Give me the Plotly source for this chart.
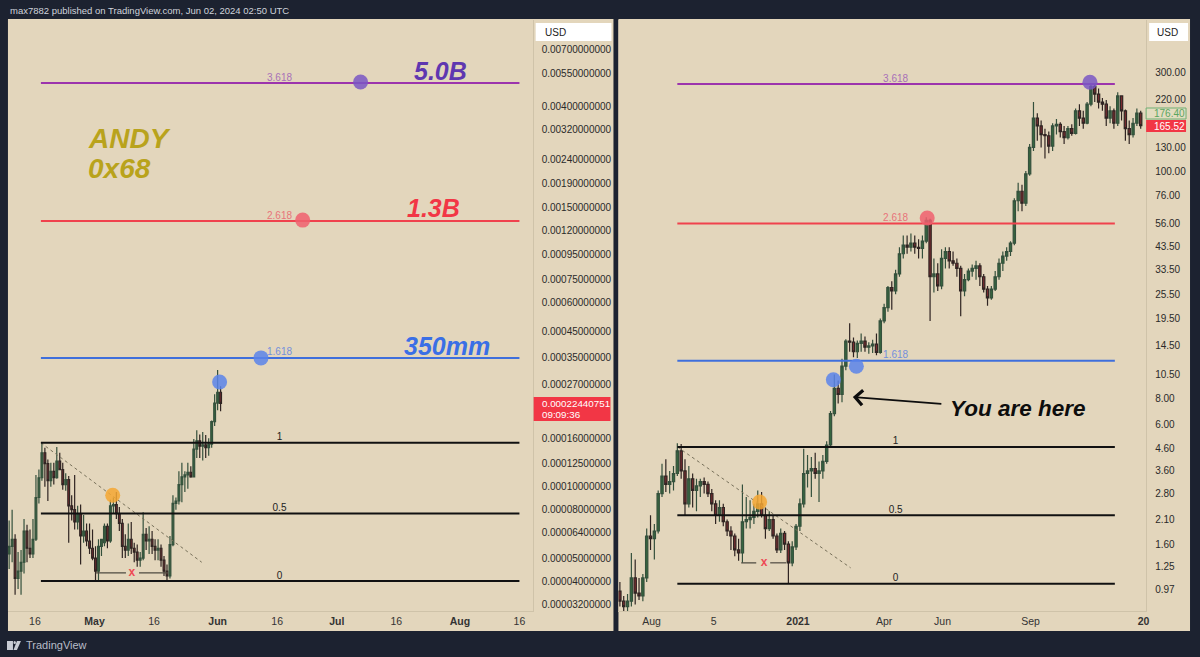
import pandas as pd
import plotly.graph_objects as go

# ---------- data (left chart, prices in units of 1e-5 USD) ----------
LEFT_UNIT = 1e-5
left_open = [5.2,5.6,6.0,4.1,4.4,4.8,6.5,5.5,5.2,6.0,9.0,10.9,13.9,12.5,10.6,11.6,10.9,12.8,11.8,10.2,10.7,8.3,8.0,7.1,7.7,6.2,6.5,5.9,5.5,5.0,4.4,5.6,5.8,6.8,5.9,8.3,8.4,7.7,7.0,5.6,5.4,6.0,5.5,5.3,4.9,5.0,6.3,5.9,6.0,5.6,5.4,5.5,4.9,4.4,4.2,5.7,8.5,8.7,10.2,11.0,11.2,11.5,11.0,14.4,15.6,14.8,15.0,14.6,15.1,18.8,22.5,25.0]
left_high = [7.2,8.0,6.3,5.3,5.4,7.3,6.9,6.6,7.3,11.2,11.8,15.3,14.6,13.0,12.6,12.6,14.7,13.9,12.6,11.4,11.1,9.2,11.2,8.3,8.4,7.6,7.0,7.0,6.6,5.6,6.0,6.0,7.0,7.0,8.8,9.0,9.5,8.2,7.3,6.3,7.0,7.1,5.8,5.7,5.3,7.8,6.7,6.8,6.5,6.0,6.0,5.7,5.1,4.7,6.2,9.2,9.0,11.6,12.6,11.6,12.6,12.2,15.9,17.3,16.6,17.0,16.5,16.0,19.0,24.5,31.0,26.5]
left_low = [4.5,4.8,3.5,3.7,3.5,4.3,4.8,5.0,5.0,5.9,8.5,10.6,10.0,8.7,10.0,10.2,10.8,11.8,9.7,9.6,5.8,7.2,6.6,6.6,4.7,5.8,5.6,5.2,4.9,4.0,4.0,5.1,5.6,5.5,5.8,7.7,7.3,6.5,5.0,5.0,5.1,5.2,4.8,4.6,4.6,4.9,5.4,5.2,5.2,4.9,4.9,4.6,4.2,4.0,4.1,5.6,8.0,8.4,8.6,9.5,9.8,10.9,11.0,13.2,13.2,12.9,13.2,13.5,14.6,18.0,21.0,20.8]
left_close = [5.6,6.0,4.1,4.4,4.8,6.5,5.5,5.2,6.0,9.0,10.9,13.9,12.5,10.6,11.6,10.9,12.8,11.8,10.2,10.7,8.3,8.0,7.1,7.7,6.2,6.5,5.9,5.5,5.0,4.4,5.6,6.0,6.8,5.9,8.3,8.4,7.7,7.0,5.6,5.4,6.0,5.5,5.3,4.9,5.0,6.3,5.9,6.0,5.6,5.4,5.5,4.9,4.4,4.2,5.7,8.5,8.7,10.2,11.0,11.2,11.5,11.0,14.4,15.6,14.8,15.0,14.6,15.1,18.8,22.5,25.0,22.44]

# ---------- data (right chart, USD) ----------
right_open = [.95,.85,.8,.85,1.1,.93,.9,1.1,1.75,1.7,1.85,2.8,3.4,3.1,3.2,3.5,4.5,3.6,2.5,3.3,2.9,3.05,3.2,3.1,2.8,2.5,2.2,2.4,2.05,1.85,1.75,1.5,1.45,2.05,2.1,2.15,2.3,2.5,2.2,1.9,2.1,1.75,1.5,1.8,1.6,1.3,1.55,1.95,2.5,3.5,3.6,3.7,3.5,3.6,4.0,4.8,6.8,9.0,8.4,11.5,15.2,15,13.5,14.8,15.2,14.2,14.4,14.7,13.4,19,22,27.5,26.5,32,40,44,43,45,43,42.5,46,58,31,32,28,38,41,37,36,34,26.5,30,33,34,35,31,27,24.5,27,31,36,39,41,45,72,80,70,97,130,180,165,150,148,132,165,168,155,145,160,152,195,180,170,210,255,235,215,210,180,195,170,230,195,160,150,170,190]
right_high = [1.05,.9,.92,1.45,1.35,1.1,1.15,1.9,2.2,2.0,2.9,3.9,4.1,3.6,3.8,4.9,4.85,4.1,3.8,3.5,3.3,3.3,3.35,3.2,2.95,2.6,2.6,2.5,2.1,1.95,1.8,1.7,3.1,2.7,2.6,2.5,2.9,2.85,2.4,2.3,2.2,1.8,1.9,1.85,1.65,1.65,2.0,2.65,4.6,4.3,4.2,4.4,4.0,4.3,5.0,7.0,10.5,9.8,12.5,15.5,18.5,15.8,15.3,16.5,16.0,15,15.4,16.5,19.5,23,28,29.5,33.5,43,49,49,50,49,47,49,60,59,38,36,42,43,43,41,38,35,32,34,35.5,37,36,32,28,28,33,38,41,43,46,74,88,86,100,135,215,190,175,160,155,170,178,172,165,165,168,200,210,195,215,265,262,250,225,220,205,200,240,232,198,175,180,200,195]
right_low = [.8,.76,.76,.8,.82,.86,.85,1.05,1.5,1.35,1.8,2.7,2.85,2.8,2.9,3.4,3.3,2.2,2.4,2.4,2.3,2.7,2.8,2.7,2.3,2.0,2.05,1.95,1.75,1.5,1.4,1.33,1.3,1.9,1.9,2.0,2.15,2.15,1.7,1.85,1.7,1.45,1.45,1.5,1.03,1.25,1.5,1.85,2.4,3.0,2.7,3.3,2.55,3.3,3.9,4.7,6.6,7.6,7.7,11,13.5,12.7,12.6,13.5,13.5,13.2,13.3,13,13.2,18.5,21,21.5,25.5,31,38,40,41,40,38,38,45,19,26,26.5,27,34,34,35,31,20,25,29.5,31,30,28,26,22.5,24,26.5,30,33,37,39,44,64,64,68,95,125,140,130,115,122,125,150,145,135,142,148,150,165,160,168,205,215,200,195,165,170,160,165,175,140,135,145,165,160]
right_close = [.85,.8,.85,1.1,.93,.9,1.1,1.75,1.7,1.85,2.8,3.4,3.1,3.2,3.5,4.5,3.6,2.5,3.3,2.9,3.05,3.2,3.1,2.8,2.5,2.2,2.4,2.05,1.85,1.75,1.5,1.45,2.05,2.1,2.15,2.3,2.5,2.2,1.9,2.1,1.75,1.5,1.8,1.6,1.3,1.55,1.95,2.5,3.5,3.6,3.7,3.5,3.6,4.0,4.8,6.8,9.0,8.4,11.5,15.2,15,13.5,14.8,15.2,14.2,14.4,14.7,13.4,19,22,27.5,26.5,32,40,44,43,45,43,42.5,46,58,31,32,28,38,41,37,36,34,26.5,30,33,34,35,31,27,24.5,27,31,36,39,41,45,72,80,70,97,130,180,165,150,148,132,165,168,155,145,160,152,195,180,170,210,255,235,215,210,180,195,170,230,195,160,150,170,190,165.52]

# ---------- axis labels ----------
left_y_ticks = [0.007,0.0055,0.004,0.0032,0.0024,0.0019,0.0015,0.0012,0.00095,0.00075,0.0006,0.00045,0.00035,0.00027,0.00016,0.000125,0.0001,0.00008,0.000064,0.00005,0.00004,0.000032]
right_y_ticks = [300,220,130,100,76,56,43.5,33.5,25.5,19.5,14.5,10.5,8,6,4.6,3.6,2.8,2.1,1.6,1.25,0.97]
left_x_ticks = ["2024-04-16","2024-05-01","2024-05-16","2024-06-01","2024-06-16","2024-07-01","2024-07-16","2024-08-01","2024-08-16"]
left_x_labels = ["16","<b>May</b>","16","<b>Jun</b>","16","<b>Jul</b>","16","<b>Aug</b>","16"]
right_x_ticks = ["2020-08-01","2020-10-05","2021-01-01","2021-04-01","2021-06-01","2021-09-01","2021-12-28"]
right_x_labels = ["Aug","5","<b>2021</b>","Apr","Jun","Sep","<b>20</b>"]

# ---------- fib levels: (label, price, line colour, label colour) ----------
left_levels = [("3.618",0.00503,"#9c34ad","#a871b8"),("2.618",0.001317,"#f0424d","#e8747a"),("1.618",0.000349,"#3f6fdc","#7390dc"),
               ("1",0.000153,"#111111","#222222"),("0.5",0.000077,"#111111","#222222"),("0",0.00004,"#111111","#222222")]
right_levels = [("3.618",262.6,"#9c34ad","#a871b8"),("2.618",56,"#f0424d","#e8747a"),("1.618",12.2,"#3f6fdc","#7390dc"),
                ("1",4.7,"#111111","#222222"),("0.5",2.2,"#111111","#222222"),("0",1.03,"#111111","#222222")]
left_span = ["2024-04-17 12:00","2024-08-16"]
right_span = ["2020-08-28","2021-11-28"]
left_label_date = "2024-06-16 14:00"
right_label_date = "2021-04-13"

# ---------- circles ----------
left_dots_x = ["2024-07-07","2024-06-22 10:00","2024-06-11 22:00","2024-06-01 12:00","2024-05-05 14:00"]
left_dots_y = [0.00508,0.00133,0.000349,0.000276,0.000092]
right_dots_x = ["2021-11-02","2021-05-16","2021-03-03","2021-02-07","2020-11-22"]
right_dots_y = [268,59.5,11.5,9.9,2.55]
dots_colors = ["#7a57c4","#f0606e","#5b84ea","#5b84ea","#f5a733"]

# ---------- trend lines and x brackets ----------
left_trend_x, left_trend_y = ["2024-04-17 12:00","2024-05-28"], [0.000153,0.000048]
right_trend_x, right_trend_y = ["2020-08-28","2021-02-25"], [4.7,1.23]
left_x_a, left_x_b = ["2024-05-01 07:00","2024-05-08 22:00"], ["2024-05-12 05:00","2024-05-19 12:00"]
left_x_price, left_x_date = 0.0000433, "2024-05-10 10:00"
right_x_a, right_x_b = ["2020-11-02 18:00","2020-11-18 10:00"], ["2020-12-03","2020-12-19 14:00"]
right_x_price, right_x_date = 1.30, "2020-11-26 16:00"

W, H = 1200, 657
DARK, PANEL = "#1c2230", "#e3d6bc"
def px(x): return x / W
def py(y): return 1 - y / H

left_dates = pd.date_range("2024-04-09 12:00", periods=len(left_close), freq="18h")
right_dates = pd.date_range("2020-06-29", periods=len(right_close), freq="4D")

fig = go.Figure()
def candles(x, o, h, l, c, xa, ya):
    fig.add_trace(go.Candlestick(
        x=x, open=o, high=h, low=l, close=c, xaxis=xa, yaxis=ya, whiskerwidth=0,
        increasing=dict(line=dict(color="#34503c", width=1.2), fillcolor="#36663f"),
        decreasing=dict(line=dict(color="#2f2422", width=1.2), fillcolor="#7a2c30"),
        hoverinfo="skip", showlegend=False))

candles(left_dates, [v*LEFT_UNIT for v in left_open], [v*LEFT_UNIT for v in left_high],
        [v*LEFT_UNIT for v in left_low], [v*LEFT_UNIT for v in left_close], "x", "y")
candles(right_dates, right_open, right_high, right_low, right_close, "x2", "y2")

def line(x, y, xa, ya, color, width=1, dash="solid"):
    fig.add_trace(go.Scatter(x=x, y=y, xaxis=xa, yaxis=ya, mode="lines", showlegend=False, hoverinfo="skip",
                             line=dict(color=color, width=width, dash=dash)))

def decorate(levels, span, label_date, trend_x, trend_y, xa, xb, xp, xd, dx, dy, xaxis, yaxis):
    line(trend_x, trend_y, xaxis, yaxis, "#77705a", 1, "dot")
    for label, price, lc, tc in levels:
        line(span, [price, price], xaxis, yaxis, lc, 2)
        fig.add_trace(go.Scatter(x=[label_date], y=[price], xaxis=xaxis, yaxis=yaxis, mode="text", text=[label],
                                 textposition="top center", showlegend=False, hoverinfo="skip",
                                 textfont=dict(family="Liberation Sans", size=10, color=tc)))
    line(xa, [xp, xp], xaxis, yaxis, "#4e4a40", 1.2)
    line(xb, [xp, xp], xaxis, yaxis, "#4e4a40", 1.2)
    fig.add_trace(go.Scatter(x=[xd], y=[xp], xaxis=xaxis, yaxis=yaxis, mode="text", text=["<b>x</b>"], showlegend=False,
                             hoverinfo="skip", textfont=dict(family="Liberation Sans", size=12, color="#ee4a55")))
    fig.add_trace(go.Scatter(x=dx, y=dy, xaxis=xaxis, yaxis=yaxis, mode="markers", showlegend=False, hoverinfo="skip",
                             marker=dict(size=15, color=dots_colors, opacity=0.85, line=dict(width=0))))

decorate(left_levels, left_span, left_label_date, left_trend_x, left_trend_y, left_x_a, left_x_b, left_x_price, left_x_date,
         left_dots_x, left_dots_y, "x", "y")
decorate(right_levels, right_span, right_label_date, right_trend_x, right_trend_y, right_x_a, right_x_b, right_x_price, right_x_date,
         right_dots_x, right_dots_y, "x2", "y2")

axis_font = dict(family="Liberation Sans", size=10, color="#2a2a2a")
common_x = dict(showgrid=False, zeroline=False, rangeslider=dict(visible=False), showline=True, linecolor="#cfc3a9", linewidth=1,
                ticks="", tickfont=dict(family="Liberation Sans", size=10.5, color="#333333"), tickangle=0, tickmode="array", type="date")
common_y = dict(type="log", side="right", showgrid=False, zeroline=False, showline=True, linecolor="#cfc3a9", linewidth=1,
                ticks="", tickfont=axis_font, tickmode="array", ticklabelstandoff=6)

shapes = [
    dict(type="rect", xref="paper", yref="paper", x0=px(8), x1=px(615), y0=py(631), y1=py(19), fillcolor=PANEL, line_width=0, layer="below"),
    dict(type="rect", xref="paper", yref="paper", x0=px(620), x1=px(1193), y0=py(631), y1=py(19), fillcolor=PANEL, line_width=0, layer="below"),
    # price tags and USD boxes
    dict(type="rect", xref="paper", yref="paper", x0=px(537), x1=px(613), y0=py(41), y1=py(23), fillcolor="#ffffff", line_width=0),
    dict(type="rect", xref="paper", yref="paper", x0=px(1152), x1=px(1191), y0=py(41), y1=py(23), fillcolor="#ffffff", line_width=0),
    dict(type="rect", xref="paper", yref="paper", x0=px(535), x1=px(612), y0=py(421), y1=py(397), fillcolor="#f23645", line_width=0),
    dict(type="rect", xref="paper", yref="paper", x0=px(1149), x1=px(1189), y0=py(119), y1=py(108), fillcolor="#e3dcc0", line=dict(color="#6fae73", width=1)),
    dict(type="rect", xref="paper", yref="paper", x0=px(1149), x1=px(1189), y0=py(132), y1=py(120), fillcolor="#f23645", line_width=0),
    # TradingView mark
    dict(type="rect", xref="paper", yref="paper", x0=px(7), x1=px(13), y0=py(650), y1=py(641), fillcolor="#c8ccd4", line_width=0),
    dict(type="circle", xref="paper", yref="paper", x0=px(13.5), x1=px(16), y0=py(644), y1=py(641), fillcolor="#c8ccd4", line_width=0),
    dict(type="path", xref="paper", yref="paper",
         path=f"M {px(17)} {py(641)} L {px(21)} {py(641)} L {px(17)} {py(650)} L {px(13.5)} {py(650)} Z", fillcolor="#c8ccd4", line_width=0),
]

def note(x, y, text, size=10, color="#222222", family="Liberation Sans", anchor="left"):
    return dict(xref="paper", yref="paper", x=px(x), y=py(y), text=text, showarrow=False, xanchor=anchor, yanchor="middle",
                align="left", font=dict(family=family, size=size, color=color))

annotations = [
    note(8, 10, "max7882 published on TradingView.com, Jun 02, 2024 02:50 UTC", 9.5, "#cfd3db"),
    note(24, 645, "TradingView", 11, "#b8bdc8"),
    note(544, 32, "USD", 10, "#222222"),
    note(1158, 32, "USD", 10, "#222222"),
    note(541, 403, "0.00022440751", 9.8, "#ffffff"),
    note(541, 414.5, "09:09:36", 9.8, "#ffffff"),
    note(1155, 113.5, "176.40", 10, "#5aa55f"),
    note(1155, 126, "165.52", 10, "#ffffff"),
    note(442, 71, "<b><i>5.0B</i></b>", 25, "#5f37b0", anchor="center"),
    note(435, 208, "<b><i>1.3B</i></b>", 25, "#f23645", anchor="center"),
    note(448, 346, "<b><i>350mm</i></b>", 25, "#3a6fe6", anchor="center"),
    note(86, 139, "<b><i>ANDY</i></b>", 28, "#b9a31c"),
    note(86, 168, "<b><i>0x68</i></b>", 28, "#b9a31c"),
    note(950, 408, "<b><i>You are here</i></b>", 22.5, "#0d0d0d"),
    dict(xref="paper", yref="paper", x=px(855), y=py(397), ax=90, ay=7, showarrow=True, text="", arrowhead=4, arrowsize=1.8,
         arrowwidth=1.6, arrowcolor="#0d0d0d", standoff=0),
]

fig.update_layout(
    width=W, height=H, autosize=False, margin=dict(l=0, r=0, t=0, b=0), paper_bgcolor=DARK, plot_bgcolor=PANEL, showlegend=False,
    shapes=shapes, annotations=annotations, boxgap=0.15,
    xaxis=dict(common_x, domain=[px(8), px(534)], anchor="y", range=["2024-04-09 05:00", "2024-08-19 08:00"],
               tickvals=left_x_ticks, ticktext=left_x_labels),
    yaxis=dict(common_y, domain=[py(611), py(20)], anchor="x", range=[-4.5243, -2.0325],
               tickvals=left_y_ticks, ticktext=[f"{v:.11f}" for v in left_y_ticks]),
    xaxis2=dict(common_x, domain=[px(620), px(1149)], anchor="y2", range=["2020-06-27 12:00", "2021-12-30 16:00"],
                tickvals=right_x_ticks, ticktext=right_x_labels),
    yaxis2=dict(common_y, domain=[py(611), py(20)], anchor="x2", range=[-0.1180, 2.7275],
                tickvals=right_y_ticks, ticktext=[f"{v:.2f}" for v in right_y_ticks]),
)

fig.write_html("out.html", config=dict(displayModeBar=False),
               post_script="document.body.style.margin='0';document.body.style.overflow='hidden';")
